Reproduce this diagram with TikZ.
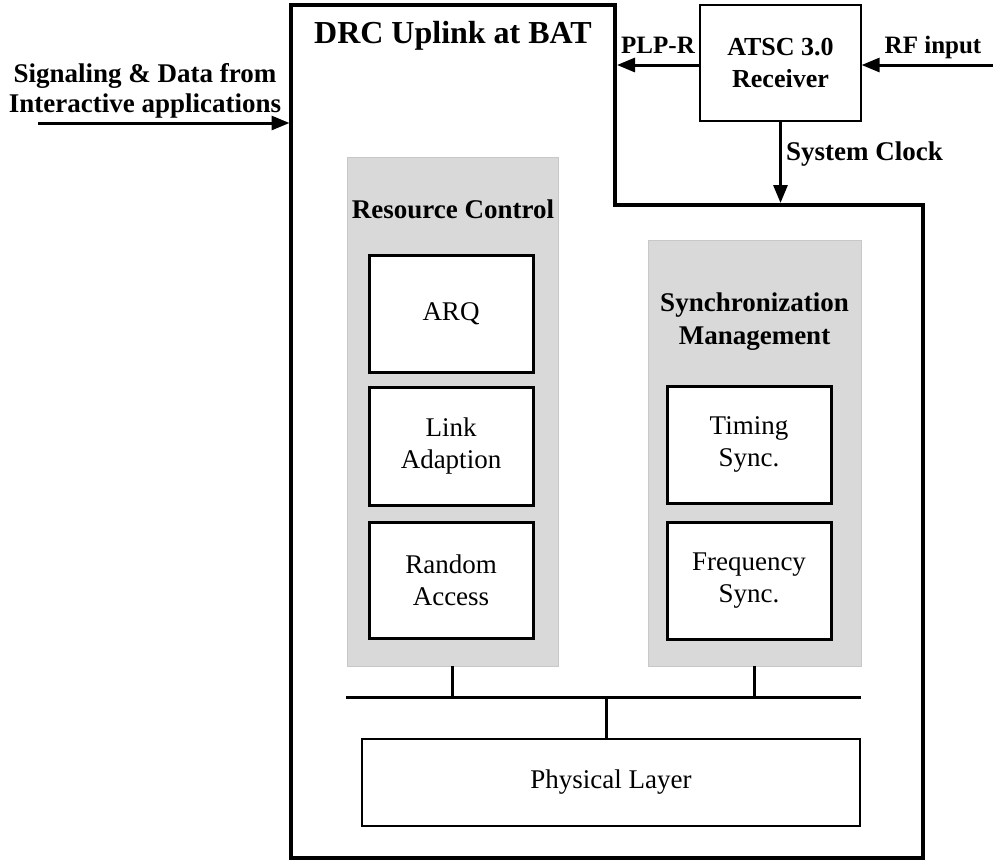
\documentclass[tikz,border=0pt]{standalone}
\usepackage{fontspec}
\setmainfont{Liberation Serif}
\usetikzlibrary{arrows.meta}
\definecolor{panelgray}{HTML}{D9D9D9}
\definecolor{paneledge}{HTML}{C8C8C8}
\begin{document}
\begin{tikzpicture}[x=1pt,y=-1pt,
  thickline/.style={line width=3pt},
  arr/.style={line width=3pt,-{Triangle[length=18pt,width=14pt]}},
  panel/.style={fill=panelgray,draw=paneledge,line width=0.8pt,inner sep=0pt},
  blk/.style={draw,fill=white,line width=3pt,align=center,inner sep=0pt,
    font=\fontsize{27}{32}\selectfont},
  thinblk/.style={draw,fill=white,line width=1.2pt,align=center,inner sep=0pt},
  lbl/.style={font=\bfseries\fontsize{27}{32}\selectfont,inner sep=0pt,align=center},
  smalllbl/.style={font=\bfseries\fontsize{25}{30}\selectfont,inner sep=0pt},
]
\useasboundingbox (0,0) rectangle (993,860);

% outer DRC uplink block
\draw[line width=3.5pt] (291,5) -- (615,5) -- (615,205) -- (923,205)
  -- (923,858) -- (291,858) -- cycle;
\node[font=\bfseries\fontsize{32}{36}\selectfont,inner sep=0pt,anchor=base]
  (title) at (453,43) {DRC Uplink at BAT};

% ATSC receiver
\node[thinblk,minimum width=161pt,minimum height=116pt,
  font=\bfseries\fontsize{26}{32}\selectfont] (atsc) at (780.5,63)
  {ATSC 3.0\\Receiver};

\coordinate (plpEnd) at (617,65);
\coordinate (rfStart) at (993,65);
\coordinate (clkEnd) at (780.5,203);
\coordinate (sigStart) at (38,123);
\coordinate (sigEnd) at (289.5,123);

\draw[arr] (atsc.west |- plpEnd) -- (plpEnd);
\draw[arr] (rfStart) -- (atsc.east |- rfStart);
\draw[arr] (atsc.south) -- (clkEnd);
\draw[arr] (sigStart) -- (sigEnd);

\node[smalllbl,anchor=base] (plplbl) at (658,53) {PLP-R};
\node[smalllbl,anchor=base] (rflbl) at (933,53) {RF input};
\node[lbl,anchor=base west] (clklbl) at (786,160) {System Clock};
\node[lbl,font=\bfseries\fontsize{27}{30}\selectfont] (siglbl) at (145,90.5)
  {Signaling \& Data from\\Interactive applications};

% panels
\node[panel,minimum width=211pt,minimum height=509pt] (rcpanel) at (452.5,411.5) {};
\node[panel,minimum width=213pt,minimum height=426pt] (syncpanel) at (754.5,453) {};

\node[lbl,anchor=base] (rctitle) at (453,218) {Resource Control};
\node[lbl,font=\bfseries\fontsize{27}{33}\selectfont] (synctitle) at (754.5,322)
  {Synchronization\\Management};

% resource control blocks
\node[blk,minimum width=164pt,minimum height=117pt] (arq) at (451,313.5) {ARQ};
\node[blk,minimum width=164pt,minimum height=118pt] (link) at (451,446) {Link\\Adaption};
\node[blk,minimum width=164pt,minimum height=116pt] (rand) at (451,580) {Random\\Access};

% sync blocks
\node[blk,minimum width=164pt,minimum height=117pt] (timing) at (749,444.5) {Timing\\Sync.};
\node[blk,minimum width=164pt,minimum height=117pt] (freq) at (749,580.5) {Frequency\\Sync.};

% physical layer
\node[thinblk,minimum width=498pt,minimum height=87pt,
  font=\fontsize{27}{32}\selectfont] (phys) at (611,782.5) {Physical Layer};

% bus
\coordinate (busL) at (346,697);
\coordinate (busR) at (861,697);
\coordinate (busJ) at (606,697);
\draw[thickline] (busL) -- (busR);
\draw[thickline] (rcpanel.south) -- (rcpanel.south |- busL);
\draw[thickline] (syncpanel.south) -- (syncpanel.south |- busL);
\draw[thickline] (busJ) -- (busJ |- phys.north);
\end{tikzpicture}
\end{document}
